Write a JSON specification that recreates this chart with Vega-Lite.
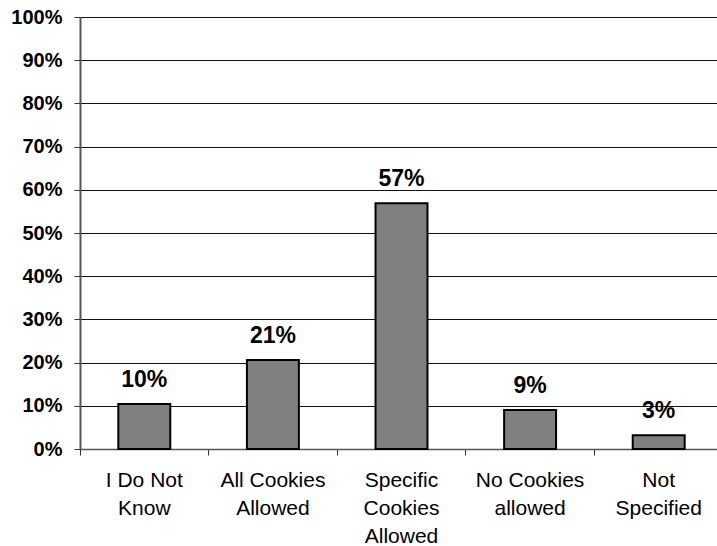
{
  "$schema": "https://vega.github.io/schema/vega-lite/v6.json",
  "autosize": "none",
  "padding": {"left": 80, "top": 17, "right": 0, "bottom": 97},
  "width": 637,
  "height": 432,
  "background": "white",
  "config": {
    "font": "Liberation Sans",
    "view": {"stroke": null}
  },
  "data": {
    "values": [
      {"answer": "I Do Not\nKnow", "share": 0.104},
      {"answer": "All Cookies\nAllowed", "share": 0.206},
      {"answer": "Specific\nCookies\nAllowed", "share": 0.569},
      {"answer": "No Cookies\nallowed", "share": 0.09},
      {"answer": "Not\nSpecified", "share": 0.032}
    ]
  },
  "encoding": {
    "x": {
      "field": "answer",
      "type": "nominal",
      "sort": null,
      "scale": {"paddingInner": 0, "paddingOuter": 0, "range": [0, 643]},
      "axis": {
        "title": null,
        "labelAngle": 0,
        "labelExpr": "split(datum.value, '\\n')",
        "labelFont": "Liberation Sans",
        "labelFontSize": 21,
        "labelLineHeight": 28,
        "labelColor": "black",
        "labelPadding": 14,
        "labelBaseline": "top",
        "bandPosition": 0,
        "tickSize": 6,
        "tickColor": "#333333",
        "domainColor": "#555555",
        "domainWidth": 1.5,
        "grid": false
      }
    },
    "y": {
      "field": "share",
      "type": "quantitative",
      "scale": {"domain": [0, 1], "nice": false},
      "axis": {
        "title": null,
        "format": ".0%",
        "values": [0, 0.1, 0.2, 0.3, 0.4, 0.5, 0.6, 0.7, 0.8, 0.9, 1],
        "labelFont": "Liberation Sans",
        "labelFontSize": 20,
        "labelFontWeight": "bold",
        "labelColor": "black",
        "labelPadding": 12,
        "tickSize": 6,
        "tickColor": "#333333",
        "domainColor": "#555555",
        "domainWidth": 2,
        "grid": true,
        "gridColor": "#111111",
        "gridWidth": 1,
        "gridOpacity": 1
      }
    }
  },
  "layer": [
    {
      "mark": {
        "type": "bar",
        "width": {"band": 0.404},
        "fill": "#808080",
        "stroke": "black",
        "strokeWidth": 2
      }
    },
    {
      "mark": {
        "type": "text",
        "baseline": "alphabetic",
        "dy": -17,
        "font": "Liberation Sans",
        "fontSize": 23,
        "fontWeight": "bold",
        "color": "black"
      },
      "encoding": {
        "text": {"field": "share", "type": "quantitative", "format": ".0%"}
      }
    }
  ]
}
